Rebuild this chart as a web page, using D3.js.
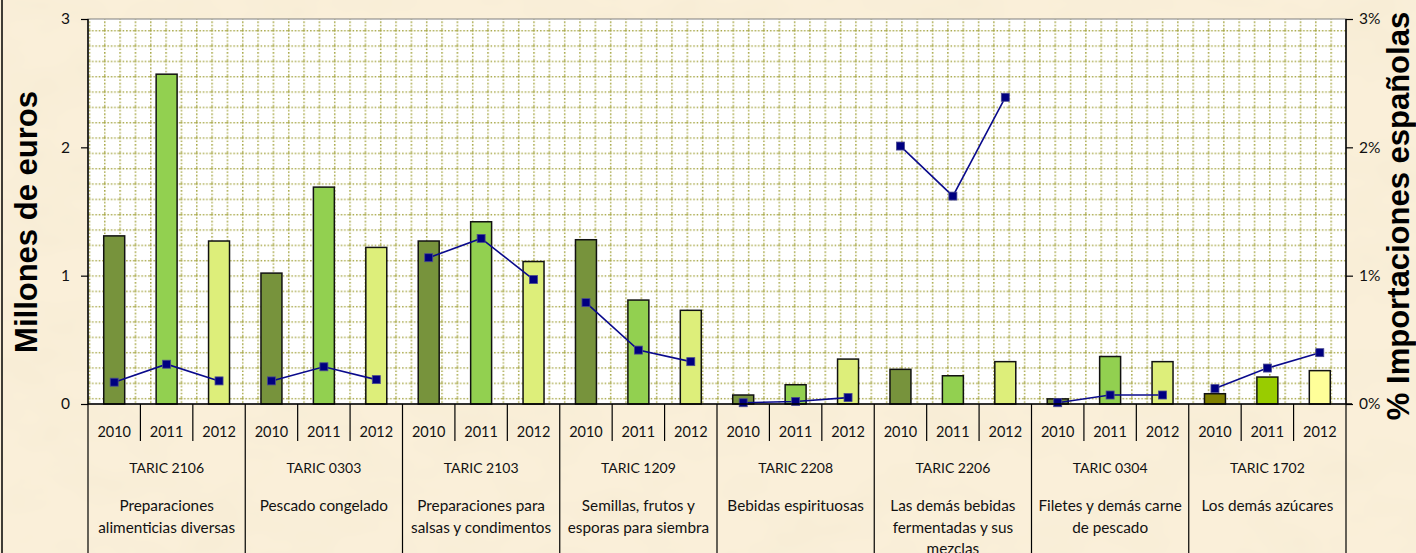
<!DOCTYPE html>
<html><head><meta charset="utf-8">
<script src="https://cdn.jsdelivr.net/npm/d3@7"></script>
<style>html,body{margin:0;padding:0;background:#F8EDD5;}svg{display:block;}</style>
</head><body>
<svg id="chart" width="1416" height="553"></svg>
<script>
// ---- data ----
const categories = ["TARIC 2106","TARIC 0303","TARIC 2103","TARIC 1209","TARIC 2208","TARIC 2206","TARIC 0304","TARIC 1702"];
const descriptions = [
  ["Preparaciones","alimenticias diversas"],
  ["Pescado congelado"],
  ["Preparaciones para","salsas y condimentos"],
  ["Semillas, frutos y","esporas para siembra"],
  ["Bebidas espirituosas"],
  ["Las demás bebidas","fermentadas y sus","mezclas"],
  ["Filetes y demás carne","de pescado"],
  ["Los demás azúcares"]
];
const years = ["2010","2011","2012"];
const values2010 = [1.31, 1.02, 1.27, 1.28, 0.07, 0.27, 0.04, 0.08];
const values2011 = [2.57, 1.69, 1.42, 0.81, 0.15, 0.22, 0.37, 0.21];
const values2012 = [1.27, 1.22, 1.11, 0.73, 0.35, 0.33, 0.33, 0.26];
const share2010 = [0.0017, 0.0018, 0.0114, 0.0079, 0.0001, 0.0201, 0.0001, 0.0012];
const share2011 = [0.0031, 0.0029, 0.0129, 0.0042, 0.0002, 0.0162, 0.0007, 0.0028];
const share2012 = [0.0018, 0.0019, 0.0097, 0.0033, 0.0005, 0.0239, 0.0007, 0.0040];
const leftTicks = [0, 1, 2, 3];
const rightTicks = [0, 0.01, 0.02, 0.03];
const leftTitle = "Millones de euros";
const rightTitle = "% Importaciones españolas";

// ---- layout ----
const W = 1416, H = 553;
const m = {left: 88, right: 1346, top: 19, bottom: 404};
const yearColors = ["#77933C", "#92D050", "#DDEE7A"];
const lastGroupColors = ["#808000", "#99CC00", "#FFFF99"];
const labelFont = "Lato, 'Open Sans', sans-serif";

const svg = d3.select("#chart");
const defs = svg.append("defs");

// parchment texture
const f = defs.append("filter").attr("id","tex").attr("x",0).attr("y",0).attr("width","100%").attr("height","100%");
f.append("feTurbulence").attr("type","fractalNoise").attr("baseFrequency","0.012 0.02").attr("numOctaves",3).attr("seed",7).attr("result","n");
f.append("feColorMatrix").attr("in","n").attr("type","matrix")
  .attr("values","0 0 0 0 0.86  0 0 0 0 0.78  0 0 0 0 0.58  0.5 0 0 0 -0.2");

// dotted grid pattern for plot area
const step = 15.33;
const pat = defs.append("pattern").attr("id","grid").attr("patternUnits","userSpaceOnUse")
  .attr("width", step).attr("height", step).attr("x", 104 % step).attr("y", 30 % step);
pat.append("rect").attr("width", step).attr("height", step).attr("fill", "#fff");
pat.append("line").attr("x1",0).attr("x2",step).attr("y1",0.75).attr("y2",0.75)
  .attr("stroke","#A8A848").attr("stroke-width",1.5).attr("stroke-dasharray","1.5 1.9");
pat.append("line").attr("y1",0).attr("y2",step).attr("x1",0.75).attr("x2",0.75)
  .attr("stroke","#A8A848").attr("stroke-width",1.5).attr("stroke-dasharray","1.5 1.9");

svg.append("rect").attr("width",W).attr("height",H).attr("fill","#FAEFD9");
svg.append("rect").attr("width",W).attr("height",H).attr("filter","url(#tex)");
svg.append("line").attr("x1",2).attr("x2",2).attr("y1",0).attr("y2",H).attr("stroke","#000").attr("stroke-width",1.5);

// scales
const xGroup = d3.scaleBand().domain(categories).range([m.left, m.right]).padding(0);
const xYear = d3.scaleBand().domain(years).range([0, xGroup.bandwidth()]).paddingInner(0.6).paddingOuter(0.3);
const yL = d3.scaleLinear().domain([0, 3]).range([m.bottom, m.top]);
const yR = d3.scaleLinear().domain([0, 0.03]).range([m.bottom, m.top]);

// plot area
svg.append("rect").attr("x", m.left).attr("y", m.top).attr("width", m.right - m.left).attr("height", m.bottom - m.top)
  .attr("fill","url(#grid)").attr("stroke","#7f7f7f").attr("stroke-width",1);

// bars
const barData = [];
categories.forEach((c, i) => {
  [values2010[i], values2011[i], values2012[i]].forEach((v, j) => {
    barData.push({cat: c, year: years[j], v, color: (i === categories.length - 1 ? lastGroupColors : yearColors)[j]});
  });
});
svg.append("g").selectAll("rect").data(barData).join("rect")
  .attr("x", d => xGroup(d.cat) + xYear(d.year))
  .attr("width", xYear.bandwidth())
  .attr("y", d => yL(d.v))
  .attr("height", d => yL(0) - yL(d.v))
  .attr("fill", d => d.color)
  .attr("stroke", "#111").attr("stroke-width", 1.5);

// lines (one per group)
const lineGen = d3.line().x(d => d.x).y(d => d.y);
const lineGroups = categories.map((c, i) => [share2010[i], share2011[i], share2012[i]].map((s, j) => ({
  x: xGroup(c) + xYear(years[j]) + xYear.bandwidth() / 2, y: yR(s)
})));
const lg = svg.append("g");
lg.selectAll("path").data(lineGroups).join("path")
  .attr("d", lineGen).attr("fill","none").attr("stroke","#0A0A8C").attr("stroke-width",1.6);
lg.selectAll("rect").data(lineGroups.flat()).join("rect")
  .attr("x", d => d.x - 4).attr("y", d => d.y - 4).attr("width", 8).attr("height", 8)
  .attr("fill","#000080").attr("stroke","#4a4a90").attr("stroke-width",0.8);

// axes
const axL = svg.append("g").attr("transform", `translate(${m.left},0)`)
  .call(d3.axisLeft(yL).tickValues(leftTicks).tickFormat(d3.format("d")).tickSize(7).tickPadding(11));
const axR = svg.append("g").attr("transform", `translate(${m.right},0)`)
  .call(d3.axisRight(yR).tickValues(rightTicks).tickFormat(d3.format(".0%")).tickSize(7).tickPadding(6));
[axL, axR].forEach(a => {
  a.select(".domain").attr("stroke","#000").attr("stroke-width",1.5).attr("d",
    a === axL ? `M-0,${m.bottom}V${m.top}` : `M0,${m.bottom}V${m.top}`);
  a.selectAll(".tick line").attr("stroke","#000").attr("stroke-width",1.2);
  a.selectAll(".tick text").attr("font-family", labelFont).attr("font-size", 15.5).attr("fill","#111");
});

// category axis
const cat = svg.append("g");
cat.append("line").attr("x1", m.left).attr("x2", m.right + 6).attr("y1", m.bottom).attr("y2", m.bottom)
  .attr("stroke","#000").attr("stroke-width",1.5);
const slotStep = xGroup.bandwidth() / years.length;
const bounds = d3.range(categories.length * years.length + 1).map(k => ({k, x: m.left + k * slotStep}));
cat.selectAll("line.sep").data(bounds).join("line").attr("class","sep")
  .attr("x1", d => d.x).attr("x2", d => d.x)
  .attr("y1", m.bottom).attr("y2", d => d.k % 3 === 0 ? H : 441)
  .attr("stroke","#000").attr("stroke-width",1.2);
const yearLabels = [];
categories.forEach(c => years.forEach(y => yearLabels.push({c, y})));
cat.selectAll("text.yr").data(yearLabels).join("text").attr("class","yr")
  .attr("x", d => xGroup(d.c) + xYear(d.y) + xYear.bandwidth() / 2)
  .attr("y", 432).attr("dy","0.35em").attr("text-anchor","middle")
  .attr("font-family", labelFont).attr("font-size", 14.5).attr("fill","#111").text(d => d.y);
cat.selectAll("text.cat").data(categories).join("text").attr("class","cat")
  .attr("x", d => xGroup(d) + xGroup.bandwidth() / 2).attr("y", 468).attr("dy","0.35em")
  .attr("text-anchor","middle").attr("font-family", labelFont).attr("font-size", 14).attr("fill","#111")
  .text(d => d);
const descT = cat.selectAll("text.desc").data(categories).join("text").attr("class","desc")
  .attr("text-anchor","middle").attr("font-family", labelFont).attr("font-size", 15.3).attr("fill","#111");
descT.each(function(c, i) {
  d3.select(this).selectAll("tspan").data(descriptions[i]).join("tspan")
    .attr("x", xGroup(c) + xGroup.bandwidth() / 2)
    .attr("y", (d, k) => 506 + k * 21.5).attr("dy","0.35em").text(d => d);
});

// axis titles
svg.append("text").attr("transform","translate(37,222) rotate(-90)").attr("text-anchor","middle")
  .attr("font-family","'Liberation Sans', Arial, sans-serif").attr("font-weight","bold").attr("font-size",31)
  .attr("fill","#000").text(leftTitle);
svg.append("text").attr("transform","translate(1409,216) rotate(-90)").attr("text-anchor","middle")
  .attr("font-family","'Liberation Sans', Arial, sans-serif").attr("font-weight","bold").attr("font-size",31)
  .attr("fill","#000").text(rightTitle);
</script>
</body></html>
